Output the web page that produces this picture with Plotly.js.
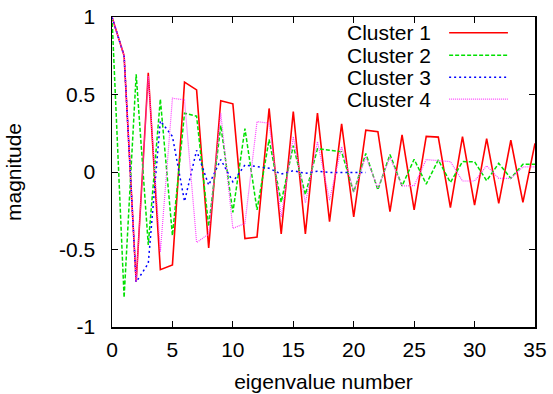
<!DOCTYPE html>
<html>
<head>
<meta charset="utf-8">
<script src="https://cdn.plot.ly/plotly-3.0.1.min.js"></script>
<style>html,body{margin:0;padding:0;background:#fff;}#chart{width:553px;height:394px;}</style>
</head>
<body>
<div id="chart"></div>
<script>
const xIdx = [0,1,2,3,4,5,6,7,8,9,10,11,12,13,14,15,16,17,18,19,20,21,22,23,24,25,26,27,28,29,30,31,32,33,34,35];
const cluster1 = [1.0,0.75,-0.71,0.64,-0.63,-0.60,0.58,0.53,-0.49,0.46,0.44,-0.43,-0.42,0.41,-0.40,0.39,-0.40,0.38,-0.32,0.31,-0.29,0.27,0.26,-0.255,0.24,-0.245,0.23,0.225,-0.23,0.228,-0.213,0.215,-0.203,0.205,-0.196,0.185];
const cluster2 = [1.0,-0.81,0.63,-0.47,0.47,-0.41,0.38,0.36,-0.35,0.30,-0.26,0.28,-0.245,0.21,-0.195,0.17,-0.145,0.15,0.14,0.13,-0.13,0.12,-0.115,0.113,-0.09,0.082,-0.078,0.078,-0.068,0.067,0.066,-0.056,0.056,-0.041,0.05,0.05];
const cluster3 = [1.0,0.75,-0.71,-0.59,0.33,0.23,-0.19,0.14,-0.085,0.08,-0.063,0.045,0.035,0.024,-0.013,0.008,-0.009,0.005,-0.003,-0.003,-0.003,-0.003];
const cluster4 = [1.0,0.75,-0.71,0.62,-0.515,0.476,0.465,-0.455,-0.40,0.38,-0.364,-0.332,0.325,0.315,-0.29,0.228,-0.2,0.196,-0.181,0.164,-0.127,0.10,-0.105,0.095,-0.09,-0.088,0.08,0.073,0.067,-0.058,-0.058,0.04,-0.041,-0.041,0.033,0.033];
const seriesNames = ["Cluster 1","Cluster 2","Cluster 3","Cluster 4"];
const xTicks = [0,5,10,15,20,25,30,35];
const xTickText = ["0","5","10","15","20","25","30","35"];
const yTicks = [-1,-0.5,0,0.5,1];
const yTickText = ["-1","-0.5","0","0.5","1"];

const styles = [
  {color:"#ff0000", dash:"solid", width:1.6},
  {color:"#00e000", dash:"4px,2px", width:1.5},
  {color:"#0000ff", dash:"2px,3px", width:1.5},
  {color:"#ff40ff", dash:"1px,1px", width:1.2}
];
const ys = [cluster1, cluster2, cluster3, cluster4];
const traces = ys.map((y,k)=>({
  x: xIdx.slice(0, y.length), y: y, type:"scatter", mode:"lines", name: seriesNames[k],
  line:{color:styles[k].color, dash:styles[k].dash, width:styles[k].width}, showlegend:false
}));

const font = {family:"Liberation Sans, Arial, sans-serif", size:21, color:"#000"};
const rowY = [0.949,0.877,0.806,0.735];
const annotations = seriesNames.map((n,k)=>({
  xref:"paper", yref:"paper", x:0.759, y:rowY[k], xanchor:"right", yanchor:"middle",
  text:n, showarrow:false, font:font
}));
const shapes = seriesNames.map((n,k)=>({
  type:"line", xref:"paper", yref:"paper", x0:0.797, x1:0.936, y0:rowY[k], y1:rowY[k],
  line:{color:styles[k].color, dash:styles[k].dash, width:styles[k].width}
}));

const axisCommon = {
  showline:true, linecolor:"#000", linewidth:1.5, mirror:"ticks",
  ticks:"inside", ticklen:6, tickwidth:1, tickcolor:"#000",
  showgrid:false, zeroline:false, tickfont:font
};
const layout = {
  width:553, height:394,
  margin:{l:112, r:18, t:17, b:67, pad:0},
  paper_bgcolor:"#fff", plot_bgcolor:"#fff",
  font:font,
  xaxis:Object.assign({}, axisCommon, {range:[0,35], tickvals:xTicks, ticktext:xTickText,
    ticklabelstandoff:3, title:{text:"eigenvalue number", font:font, standoff:14}}),
  yaxis:Object.assign({}, axisCommon, {range:[-1,1], tickvals:yTicks, ticktext:yTickText,
    ticklabelstandoff:11, title:{text:"magnitude", font:font, standoff:32}}),
  annotations:annotations, shapes:shapes, showlegend:false
};
Plotly.newPlot("chart", traces, layout, {staticPlot:true, displayModeBar:false});
</script>
</body>
</html>
